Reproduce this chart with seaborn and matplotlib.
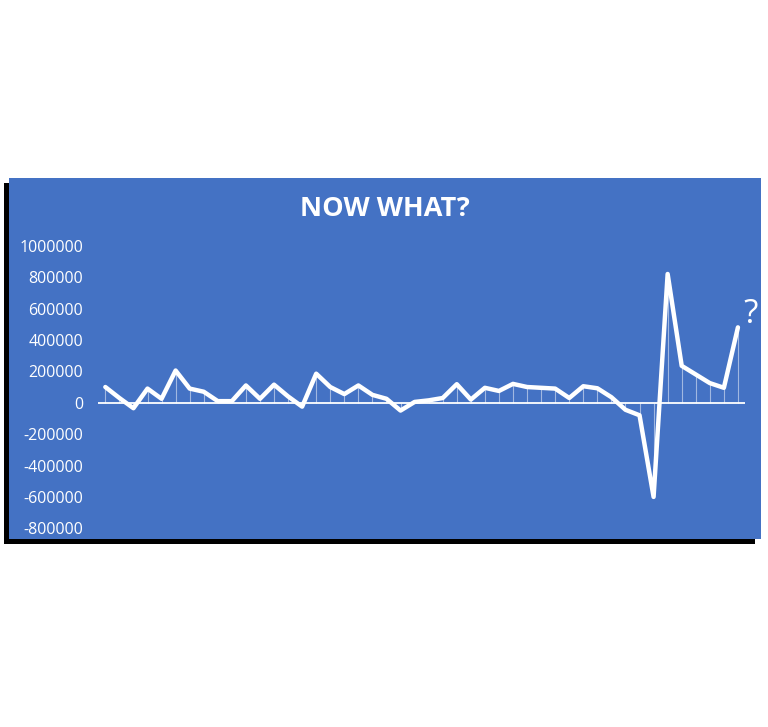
import matplotlib
matplotlib.use("Agg")
import matplotlib.pyplot as plt
from matplotlib.patches import Rectangle
import seaborn as sns
import pandas as pd

# series values, one per period
periods = list(range(46))
values = [
    100000, 30000, -35000, 90000, 25000, 205000, 90000, 70000, 10000, 10000,
    110000, 25000, 115000, 40000, -25000, 185000, 100000, 55000, 110000, 50000,
    25000, -50000, 5000, 15000, 30000, 118000, 20000, 95000, 75000, 120000,
    100000, 95000, 90000, 30000, 105000, 92000, 35000, -45000, -80000, -600000,
    820000, 235000, 180000, 125000, 95000, 480000,
]
y_ticks = [-800000, -600000, -400000, -200000, 0, 200000, 400000, 600000, 800000, 1000000]
title_text = "NOW WHAT?"

panel_blue = "#4472C4"

sns.set_style("white")
plt.rcParams['font.family'] = ['Open Sans', 'DejaVu Sans']

df = pd.DataFrame({'period': periods, 'value': values})

fig = plt.figure(figsize=(7.68, 7.27), dpi=100, facecolor="white")

# shadow + blue panel behind the chart
fig.patches.append(Rectangle((0.0046, 0.2513), 0.979, 0.497, transform=fig.transFigure,
                             facecolor="black", edgecolor="none", zorder=-10))
fig.patches.append(Rectangle((0.0117, 0.2586), 0.979, 0.497, transform=fig.transFigure,
                             facecolor=panel_blue, edgecolor="none", zorder=-9))

ax = fig.add_axes([0.128, 0.2733, 0.842, 0.3887])
ax.set_facecolor("none")

# drop lines and zero axis
ax.vlines(df['period'], 0, df['value'], color="white", lw=0.8, alpha=0.5, zorder=2)
ax.axhline(0, color="white", lw=1.3, zorder=2)

sns.lineplot(data=df, x='period', y='value', ax=ax, color="white", lw=3.2, zorder=3)

ax.annotate("?", xy=(df['period'].iloc[-1], df['value'].iloc[-1]), xytext=(9, 9),
            textcoords="offset points", ha="center", va="center",
            color="white", fontsize=24)

ax.set_xlim(-0.5, len(periods) - 0.5)
ax.set_ylim(-800000, 1000000)
ax.set_yticks(y_ticks)
ax.set_yticklabels([str(v) for v in y_ticks])
ax.tick_params(axis='y', colors="white", labelsize=11.5, length=0, pad=11)
ax.set_xticks([])
ax.set_xlabel("")
ax.set_ylabel("")
for s in ax.spines.values():
    s.set_visible(False)

fig.text(385 / 768, 1 - 208.5 / 727, title_text, ha="center", va="center",
         color="white", fontsize=19.5, fontweight="bold")

fig.savefig("out.png", dpi=100, facecolor="white")
